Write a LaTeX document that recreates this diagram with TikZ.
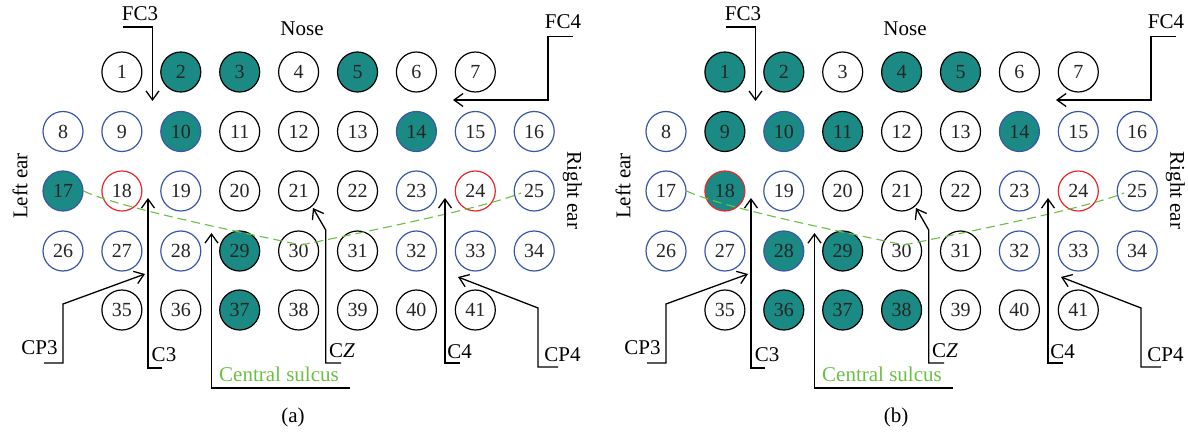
\documentclass[tikz,border=0pt]{standalone}
\usepackage{fontspec}
\setmainfont{Liberation Serif}
\usepackage{tikz}
\usetikzlibrary{arrows.meta}
\definecolor{tealon}{HTML}{1B8A84}
\definecolor{edgeblue}{HTML}{3A56A8}
\definecolor{edgered}{HTML}{E8262A}
\definecolor{sulcusgreen}{HTML}{6CBF45}
\tikzstyle{el}=[circle, draw, line width=0.6pt, minimum size=20pt, inner sep=0pt, text=black!85, font=\fontsize{10}{12}\selectfont]
\tikzstyle{offK}=[el, draw=black, fill=white]
\tikzstyle{offB}=[el, draw=edgeblue, fill=white]
\tikzstyle{offR}=[el, draw=edgered, fill=white]
\tikzstyle{onK}=[el, draw=black, fill=tealon]
\tikzstyle{onB}=[el, draw=edgeblue, fill=tealon]
\tikzstyle{onR}=[el, draw=edgered, fill=tealon]
\tikzstyle{lab}=[inner sep=0pt, font=\fontsize{10.5}{12}\selectfont]
\tikzstyle{ptr}=[line width=0.65pt, -{Straight Barb[length=4.5pt,width=6.5pt]}]
\tikzstyle{sulcus}=[sulcusgreen, line width=0.55pt, dash pattern=on 4.5pt off 2.5pt]

\begin{document}
\begin{tikzpicture}[x=0.5pt, y=-0.5pt]
  \useasboundingbox (0,0) rectangle (1188,433);
  % panel (a)
  \foreach \n/\s [count=\i] in {1/offK,2/onK,3/onK,4/offK,5/onK,6/offK,7/offK}
    \node[\s] (a\n) at ({63+58.9*\i},72) {\n};
  \foreach \n/\s [count=\i from 0] in {8/offB,9/offB,10/onB,11/offK,12/offK,13/offK,14/onB,15/offB,16/offB}
    \node[\s] (a\n) at ({63+58.9*\i},131.5) {\n};
  \foreach \n/\s [count=\i from 0] in {17/onB,18/offR,19/offB,20/offK,21/offK,22/offK,23/offB,24/offR,25/offB}
    \node[\s] (a\n) at ({63+58.9*\i},191) {\n};
  \foreach \n/\s [count=\i from 0] in {26/offB,27/offB,28/offB,29/onK,30/offK,31/offK,32/offB,33/offB,34/offB}
    \node[\s] (a\n) at ({63+58.9*\i},251) {\n};
  \foreach \n/\s [count=\i] in {35/offK,36/offK,37/onK,38/offK,39/offK,40/offK,41/offK}
    \node[\s] (a\n) at ({63+58.9*\i},310) {\n};
  % panel (b)
  \begin{scope}[xshift=301.5pt]
  \foreach \n/\s [count=\i] in {1/onK,2/onK,3/offK,4/onK,5/onK,6/offK,7/offK}
    \node[\s] (b\n) at ({63+58.9*\i},72) {\n};
  \foreach \n/\s [count=\i from 0] in {8/offB,9/onK,10/onB,11/onK,12/offK,13/offK,14/onB,15/offB,16/offB}
    \node[\s] (b\n) at ({63+58.9*\i},131.5) {\n};
  \foreach \n/\s [count=\i from 0] in {17/offB,18/onR,19/offB,20/offK,21/offK,22/offK,23/offB,24/offR,25/offB}
    \node[\s] (b\n) at ({63+58.9*\i},191) {\n};
  \foreach \n/\s [count=\i from 0] in {26/offB,27/offB,28/onB,29/onK,30/offK,31/offK,32/offB,33/offB,34/offB}
    \node[\s] (b\n) at ({63+58.9*\i},251) {\n};
  \foreach \n/\s [count=\i] in {35/offK,36/onK,37/onK,38/onK,39/offK,40/offK,41/offK}
    \node[\s] (b\n) at ({63+58.9*\i},310) {\n};
  \end{scope}
  % labels and pointers, same for both panels
  \foreach \p/\dx in {a/0,b/603}{
  \begin{scope}[xshift=\dx*0.5pt]
    \node[lab] (nose\p) at (302,29) {Nose};
    \node[lab, rotate=90] (lear\p) at (20,186) {Left ear};
    \node[lab, rotate=-90] (rear\p) at (572.5,190.5) {Right ear};
    \node[lab] (cap\p) at (293,417) {(\p)};
    \coordinate (slm\p) at (301,245);
    \coordinate (slr\p) at (521,193);
    \draw[sulcus] (\p17.east) .. controls (120,208) and (240,232) .. (slm\p)
      .. controls (364,232) and (484,208) .. (slr\p);
    % FC3
    \node[lab] (fc3\p) at (140,14) {FC3};
    \coordinate (fc3s\p) at (123,27);
    \coordinate (fc3t\p) at (152.5,101);
    \draw[ptr] (fc3s\p) -| (fc3t\p);
    % FC4
    \node[lab] (fc4\p) at (563,22) {FC4};
    \coordinate (fc4s\p) at (573,36.5);
    \coordinate (fc4c\p) at (548,100);
    \coordinate (fc4t\p) at (453,100);
    \draw[ptr] (fc4s\p) -| (fc4c\p) -- (fc4t\p);
    % CP3
    \node[lab] (cp3\p) at (39.5,347.5) {CP3};
    \coordinate (cp3s\p) at (44,363);
    \coordinate (cp3c\p) at (63,304);
    \coordinate (cp3t\p) at (145,274);
    \draw[ptr] (cp3s\p) -| (cp3c\p) -- (cp3t\p);
    % C3
    \node[lab] (c3\p) at (164,354.5) {C3};
    \coordinate (c3s\p) at (162,368);
    \coordinate (c3t\p) at (148,198);
    \draw[ptr] (c3s\p) -| (c3t\p);
    % central sulcus
    \node[lab, text=sulcusgreen] (cs\p) at (279,374.5) {Central sulcus};
    \coordinate (css\p) at (350,388);
    \coordinate (cst\p) at (211.5,233);
    \draw[ptr] (css\p) -| (cst\p);
    % CZ
    \node[lab] (cz\p) at (342,351) {C\textit{Z}};
    \coordinate (czs\p) at (341,363);
    \coordinate (czc\p) at (325.7,230);
    \coordinate (czt\p) at (313,208);
    \draw[ptr] (czs\p) -| (czc\p) -- (czt\p);
    % C4
    \node[lab] (c4\p) at (459.5,352) {C4};
    \coordinate (c4s\p) at (460,363);
    \coordinate (c4t\p) at (445,198);
    \draw[ptr] (c4s\p) -| (c4t\p);
    % CP4
    \node[lab] (cp4\p) at (562.5,354.5) {CP4};
    \coordinate (cp4s\p) at (558,367);
    \coordinate (cp4c\p) at (538,308);
    \coordinate (cp4t\p) at (458,277);
    \draw[ptr] (cp4s\p) -| (cp4c\p) -- (cp4t\p);
  \end{scope}
  }
\end{tikzpicture}
\end{document}
